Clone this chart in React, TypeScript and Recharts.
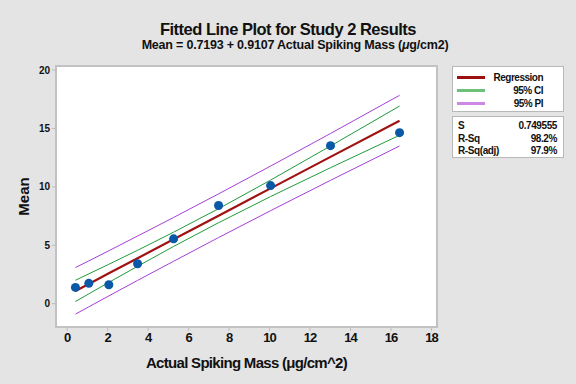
import { ComposedChart, Line, Scatter, XAxis, YAxis, ReferenceArea } from 'recharts'

const spikeMass = [0.41, 1.07, 2.06, 3.48, 5.26, 7.48, 10.05, 13.01, 16.42]
const meanValues = [1.39, 1.74, 1.62, 3.42, 5.55, 8.4, 10.11, 13.53, 14.64]

// fitted line and interval bands at those x values
const fitValues = [1.09, 1.69, 2.6, 3.89, 5.51, 7.53, 9.87, 12.57, 15.67]
const ciUpper = [2.0, 2.55, 3.37, 4.57, 6.12, 8.13, 10.58, 13.5, 16.92]
const ciLower = [0.18, 0.84, 1.82, 3.2, 4.9, 6.93, 9.17, 11.64, 14.42]
const piUpper = [3.09, 3.66, 4.53, 5.79, 7.38, 9.4, 11.78, 14.57, 17.84]
const piLower = [-0.9, -0.27, 0.66, 1.99, 3.63, 5.66, 7.96, 10.56, 13.5]

const xTicks = [0, 2, 4, 6, 8, 10, 12, 14, 16, 18]
const yTicks = [0, 5, 10, 15, 20]
const xDomain = [-0.55, 18.27]
const yDomain = [-2, 20.35]

const statRows = [
    { label: 'S', value: '0.749555' },
    { label: 'R-Sq', value: '98.2%' },
    { label: 'R-Sq(adj)', value: '97.9%' },
]

const legendItems = [
    { label: 'Regression', color: '#9b1111' },
    { label: '95% CI', color: '#6cc07a' },
    { label: '95% PI', color: '#cc88e4' },
]

const rows = spikeMass.map((x, i) => ({
    x,
    mean: meanValues[i],
    fit: fitValues[i],
    ciUp: ciUpper[i],
    ciLo: ciLower[i],
    piUp: piUpper[i],
    piLo: piLower[i],
}))

const font = '"Liberation Sans", Arial, sans-serif'

export default function App() {
    return (
        <div style={{
            position: 'fixed', left: 0, top: 0, width: 576, height: 384,
            background: '#e4e4e4', fontFamily: font, overflow: 'hidden',
        }}>
            <div style={{
                position: 'absolute', left: 0, top: 20, width: 576, textAlign: 'center',
                fontSize: 16.5, fontWeight: 'bold', letterSpacing: -0.5, color: '#111',
            }}>
                Fitted Line Plot for Study 2 Results
            </div>
            <div style={{
                position: 'absolute', left: 7, top: 38, width: 576, textAlign: 'center',
                fontSize: 12.5, fontWeight: 'bold', letterSpacing: -0.2, color: '#111',
            }}>
                Mean = 0.7193 + 0.9107 Actual Spiking Mass (<i>μ</i>g/cm2)
            </div>

            <ComposedChart
                width={576}
                height={384}
                data={rows}
                margin={{ top: 66, right: 139, bottom: 27, left: 16 }}
                style={{ position: 'absolute', left: 0, top: 0 }}
            >
                <XAxis
                    dataKey="x"
                    type="number"
                    domain={xDomain}
                    ticks={xTicks}
                    allowDataOverflow
                    height={30}
                    stroke="#bdbdbd"
                    axisLine={false}
                    tickSize={4}
                    tickMargin={2}
                    tick={{ fill: '#111', fontSize: 13, fontWeight: 'bold', letterSpacing: -1 }}
                    label={{
                        value: 'Actual Spiking Mass (μg/cm^2)', position: 'bottom', offset: 0,
                        style: { fill: '#111', fontSize: 15, fontWeight: 'bold', letterSpacing: -0.7 },
                    }}
                />
                <YAxis
                    type="number"
                    domain={yDomain}
                    ticks={yTicks}
                    allowDataOverflow
                    width={40}
                    stroke="#bdbdbd"
                    axisLine={false}
                    tickSize={4}
                    tickMargin={2}
                    tick={{ fill: '#111', fontSize: 10, fontWeight: 'bold' }}
                    label={{
                        value: 'Mean', angle: -90, position: 'insideLeft', offset: 8,
                        style: { fill: '#111', fontSize: 15, fontWeight: 'bold', textAnchor: 'middle' },
                    }}
                />
                <ReferenceArea
                    x1={xDomain[0]}
                    x2={xDomain[1]}
                    y1={yDomain[0]}
                    y2={yDomain[1]}
                    fill="#ffffff"
                    fillOpacity={1}
                    stroke="#c2c2c2"
                    strokeWidth={2}
                />
                <Line dataKey="piUp" stroke="#a63fd8" strokeWidth={1} dot={false} isAnimationActive={false} />
                <Line dataKey="piLo" stroke="#a63fd8" strokeWidth={1} dot={false} isAnimationActive={false} />
                <Line dataKey="ciUp" stroke="#1f9a3a" strokeWidth={1} dot={false} isAnimationActive={false} />
                <Line dataKey="ciLo" stroke="#1f9a3a" strokeWidth={1} dot={false} isAnimationActive={false} />
                <Line dataKey="fit" stroke="#a01212" strokeWidth={2.2} dot={false} isAnimationActive={false} />
                <Scatter dataKey="mean" fill="#0a58a8" shape="circle" isAnimationActive={false} />
            </ComposedChart>

            <div style={{
                position: 'absolute', left: 452, top: 66, width: 112, height: 46,
                background: '#fff', border: '1px solid #b8b8b8', boxSizing: 'border-box',
                padding: '4px 0 0 4px',
            }}>
                {legendItems.map((it) => (
                    <div key={it.label} style={{ display: 'flex', alignItems: 'center', height: 13 }}>
                        <div style={{ width: 28, height: 3, background: it.color }} />
                        <div style={{
                            width: 58, textAlign: 'right', fontSize: 10, fontWeight: 'bold',
                            letterSpacing: -0.5, color: '#111',
                        }}>{it.label}</div>
                    </div>
                ))}
            </div>

            <div style={{
                position: 'absolute', left: 452, top: 116, width: 112, height: 42,
                background: '#fff', border: '1px solid #b8b8b8', boxSizing: 'border-box',
                padding: '3px 6px 0 5px',
            }}>
                {statRows.map((r) => (
                    <div key={r.label} style={{
                        display: 'flex', justifyContent: 'space-between', height: 12.5,
                        fontSize: 10, fontWeight: 'bold', letterSpacing: -0.4, color: '#111',
                    }}>
                        <span>{r.label}</span>
                        <span>{r.value}</span>
                    </div>
                ))}
            </div>
        </div>
    )
}
